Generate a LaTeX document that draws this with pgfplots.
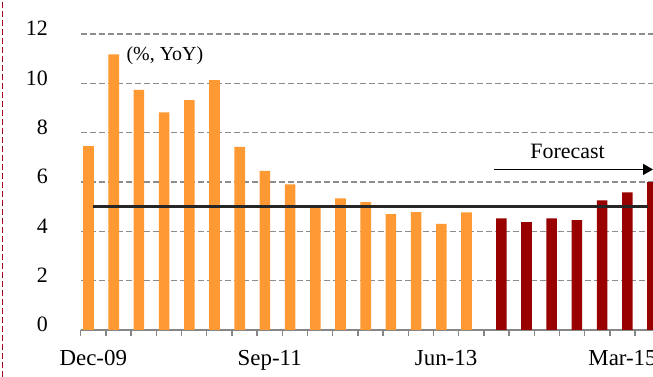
\documentclass[border=0pt]{standalone}
\usepackage{fontspec}
\setmainfont{Liberation Serif}
\usepackage{pgfplots}
\pgfplotsset{compat=1.18}
\usetikzlibrary{arrows.meta}
\definecolor{orangebar}{RGB}{255,153,51}
\definecolor{redbar}{RGB}{153,0,0}
\definecolor{gridgray}{RGB}{140,140,140}
\definecolor{axisgray}{RGB}{134,134,134}
\definecolor{borderred}{RGB}{165,0,33}
\definecolor{linegray}{RGB}{38,38,38}
\newcommand{\xfont}{\fontsize{23}{27}\selectfont}
\newcommand{\yfont}{\fontsize{22}{26}\selectfont}
\begin{document}
\begin{tikzpicture}
\useasboundingbox (0,0) rectangle (653bp,377bp);
\clip (0,0) rectangle (653bp,377bp);
\fill[white] (0,0) rectangle (653bp,377bp);
\draw[borderred, line width=1.6bp, dash pattern=on 6bp off 3bp] (2.5bp,0) -- (2.5bp,377bp);
\begin{axis}[
  at={(80.7bp,47bp)}, anchor=south west,
  scale only axis, width=572.3bp, height=296bp,
  xmin=-0.5, xmax=22.21, ymin=0, ymax=12,
  axis x line*=bottom, axis y line*=left,
  y axis line style={draw=none},
  x axis line style={axisgray, line width=1.3bp},
  /pgf/number format/assume math mode=true,
  xticklabel style={font=\xfont},
  yticklabel style={font=\yfont, xshift=-23.4bp, yshift=5.5bp},
  xtick={-0.5,0.5,...,21.5},
  xticklabels={},
  x tick style={axisgray, line width=1.3bp},
  tick align=outside,
  major tick length=6bp,
  extra x ticks={0,7,14,21},
  extra x tick labels={Dec-09,Sep-11,Jun-13,Mar-15},
  extra x tick style={major tick length=0pt, xticklabel style={yshift=-17bp}},
  ytick={0,2,...,12},
  y tick style={draw=none},
  ymajorgrids,
  grid style={gridgray, dash pattern=on 6bp off 3bp, line width=1.2bp},
  clip=true,
]
\addplot[ybar, bar width=0.42, bar shift=-0.19, fill=orangebar, draw=none] coordinates {
  (0,7.45) (1,11.17) (2,9.73) (3,8.82) (4,9.32) (5,10.13) (6,7.42) (7,6.45)
  (8,5.9) (9,5.0) (10,5.34) (11,5.18) (12,4.70) (13,4.78) (14,4.30) (15,4.77)
};
\addplot[ybar, bar width=0.42, bar shift=0.19, fill=redbar, draw=none] coordinates {
  (16,4.53) (17,4.37) (18,4.53) (19,4.45) (20,5.26) (21,5.58) (22,5.99)
};
\addplot[linegray, line width=2.8bp, mark=none] coordinates {
  (0,5) (1,5) (2,5) (3,5) (4,5) (5,5) (6,5) (7,5) (8,5) (9,5) (10,5) (11,5)
  (12,5) (13,5) (14,5) (15,5) (16,5) (17,5) (18,5) (19,5) (20,5) (21,5) (22,5)
};
\draw[-{Triangle[length=10bp,width=11bp]}, line width=1.5bp, black] (axis cs:15.9,6.51) -- (axis cs:22.21,6.51);
\node[font=\fontsize{22}{26}\selectfont] at (axis cs:18.82,7.23) {Forecast};
\node[font=\fontsize{20}{24}\selectfont] at (axis cs:2.84,11.11) {(\%, YoY)};
\end{axis}
\end{tikzpicture}
\end{document}
